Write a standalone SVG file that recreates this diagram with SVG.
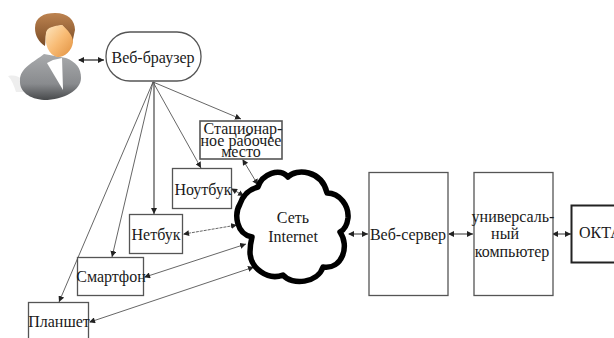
<svg xmlns="http://www.w3.org/2000/svg" width="614" height="338" viewBox="0 0 614 338">
<style>
.b{fill:#fff;stroke:#555;stroke-width:1.3}
.t{font-family:"Liberation Serif","Times New Roman",serif;font-size:16px;fill:#1a1a1a;text-anchor:middle}
.c{fill:none;stroke:#555;stroke-width:.9}
.e{marker-end:url(#a)}
.s{marker-start:url(#as)}
</style>
<defs>
<marker id="a" markerWidth="7" markerHeight="6" refX="6" refY="3" orient="auto" markerUnits="userSpaceOnUse"><path d="M0 0L6 3L0 6z" fill="#222"/></marker>
<marker id="as" markerWidth="7" markerHeight="6" refX="1" refY="3" orient="auto" markerUnits="userSpaceOnUse"><path d="M6 0L0 3L6 6z" fill="#222"/></marker>
<linearGradient id="sk" x1="0" y1="0" x2="1" y2="1"><stop offset="0" stop-color="#fde6c0"/><stop offset=".5" stop-color="#f8bb74"/><stop offset="1" stop-color="#e0903f"/></linearGradient>
<linearGradient id="hr" x1="0" y1="0" x2="0" y2="1"><stop offset="0" stop-color="#bd8350"/><stop offset="1" stop-color="#7a4c26"/></linearGradient>
<linearGradient id="bd" x1="0" y1="0" x2="0" y2="1"><stop offset="0" stop-color="#a8aaac"/><stop offset=".65" stop-color="#898b8e"/><stop offset="1" stop-color="#47494b"/></linearGradient>
</defs>
<g id="user">
<path d="M8 76C18 74 24 78 26 92L16 92C14 86 12 80 8 76z" fill="#eee"/>
<path d="M20 80C20 68 34 62 44 54L66 58C76 62 81 68 81 78C81 90 64 100 44 100C30 99 19 92 20 80z" fill="url(#bd)"/>
<path d="M47 63L53 60L62 58L63 90z" fill="#fff"/>
<path d="M35 28C35 17 44 13 55 13C68 13 75 20 75 30L72 44C70 36 67 30 62 25C53 27 47 28 46 34L45 46C39 42 35 36 35 28z" fill="url(#hr)"/>
<path d="M46 33C47 27 54 26 62 25C68 30 73 36 73 42C72 52 63 58 57 57C49 55 44 44 46 33z" fill="url(#sk)"/>
</g>
<g id="connectors">
<path class="c e s" style="stroke:#222;stroke-width:1.2" d="M79 60H104"/>
<path class="c e" d="M153 82L241 119"/>
<path class="c e" d="M153 82L201 168"/>
<path class="c e" style="stroke-width:1.3" d="M154 82V214"/>
<path class="c e" d="M153 82L112 257"/>
<path class="c e" d="M153 82L59 302"/>
<path class="c e s" d="M243 160L258 185"/>
<path class="c e s" d="M232 189L244 196"/>
<path class="c e s" stroke-dasharray="3 1" d="M184 234L237 225"/>
<path class="c e s" d="M145 277L246 244"/>
<path class="c e s" d="M90 322L254 267"/>
<path class="c e s" style="stroke-width:1.2" d="M349 234H368"/>
<path class="c e s" style="stroke-width:1.2" d="M449 234H473"/>
<path class="c e s" style="stroke-width:1.2" d="M553 234H571"/>
</g>
<g id="browser"><rect class="b" x="106" y="32" width="95" height="49" rx="24"/><text class="t" x="153" y="63">Веб-браузер</text></g>
<g id="workstation"><rect class="b" style="stroke-width:1.6" x="200" y="121" width="82" height="38"/>
<text class="t" x="243" y="134">Стационар-</text><text class="t" x="241" y="146">ное рабочее</text><text class="t" x="241" y="157">место</text></g>
<g id="notebook"><rect class="b" x="172.500" y="168.500" width="59" height="40"/><text class="t" x="203" y="195">Ноутбук</text></g>
<g id="netbook"><rect class="b" x="129.500" y="214.500" width="53" height="39"/><text class="t" x="156" y="240">Нетбук</text></g>
<g id="smartphone"><rect class="b" x="77.500" y="257.500" width="66" height="38"/><text class="t" x="111" y="282">Смартфон</text></g>
<g id="tablet"><rect class="b" x="28.500" y="302.500" width="60" height="50"/><text class="t" x="59" y="327">Планшет</text></g>
<g id="cloud">
<path d="M258 187C262 174 280 167 288 177C296 168 322 170 327 193C340 193 349 206 348 218C347 226 344 230 340 232C350 246 342 270 323 267C318 283 292 286 283 275C268 281 250 268 250 252C250 246 251 241 252 237C236 234 234 214 240 204C243 195 250 189 258 187z" fill="#fff" stroke="#000" stroke-width="5.500" stroke-linejoin="round"/>
<text class="t" x="293" y="223">Сеть</text><text class="t" x="293" y="242">Internet</text></g>
<g id="webserver"><rect class="b" x="369" y="172.500" width="79" height="123"/><text class="t" x="408" y="240">Веб-сервер</text></g>
<g id="mainframe"><rect class="b" x="474" y="172.500" width="79" height="123"/>
<text class="t" x="513" y="222">универсаль-</text><text class="t" x="505" y="239">ный</text><text class="t" x="512" y="257">компьютер</text></g>
<g id="okta"><rect x="571.500" y="205.500" width="60" height="57" fill="#fff" stroke="#222" stroke-width="2"/><text class="t" style="text-anchor:start" x="579" y="238">ОКТА</text></g>
</svg>
